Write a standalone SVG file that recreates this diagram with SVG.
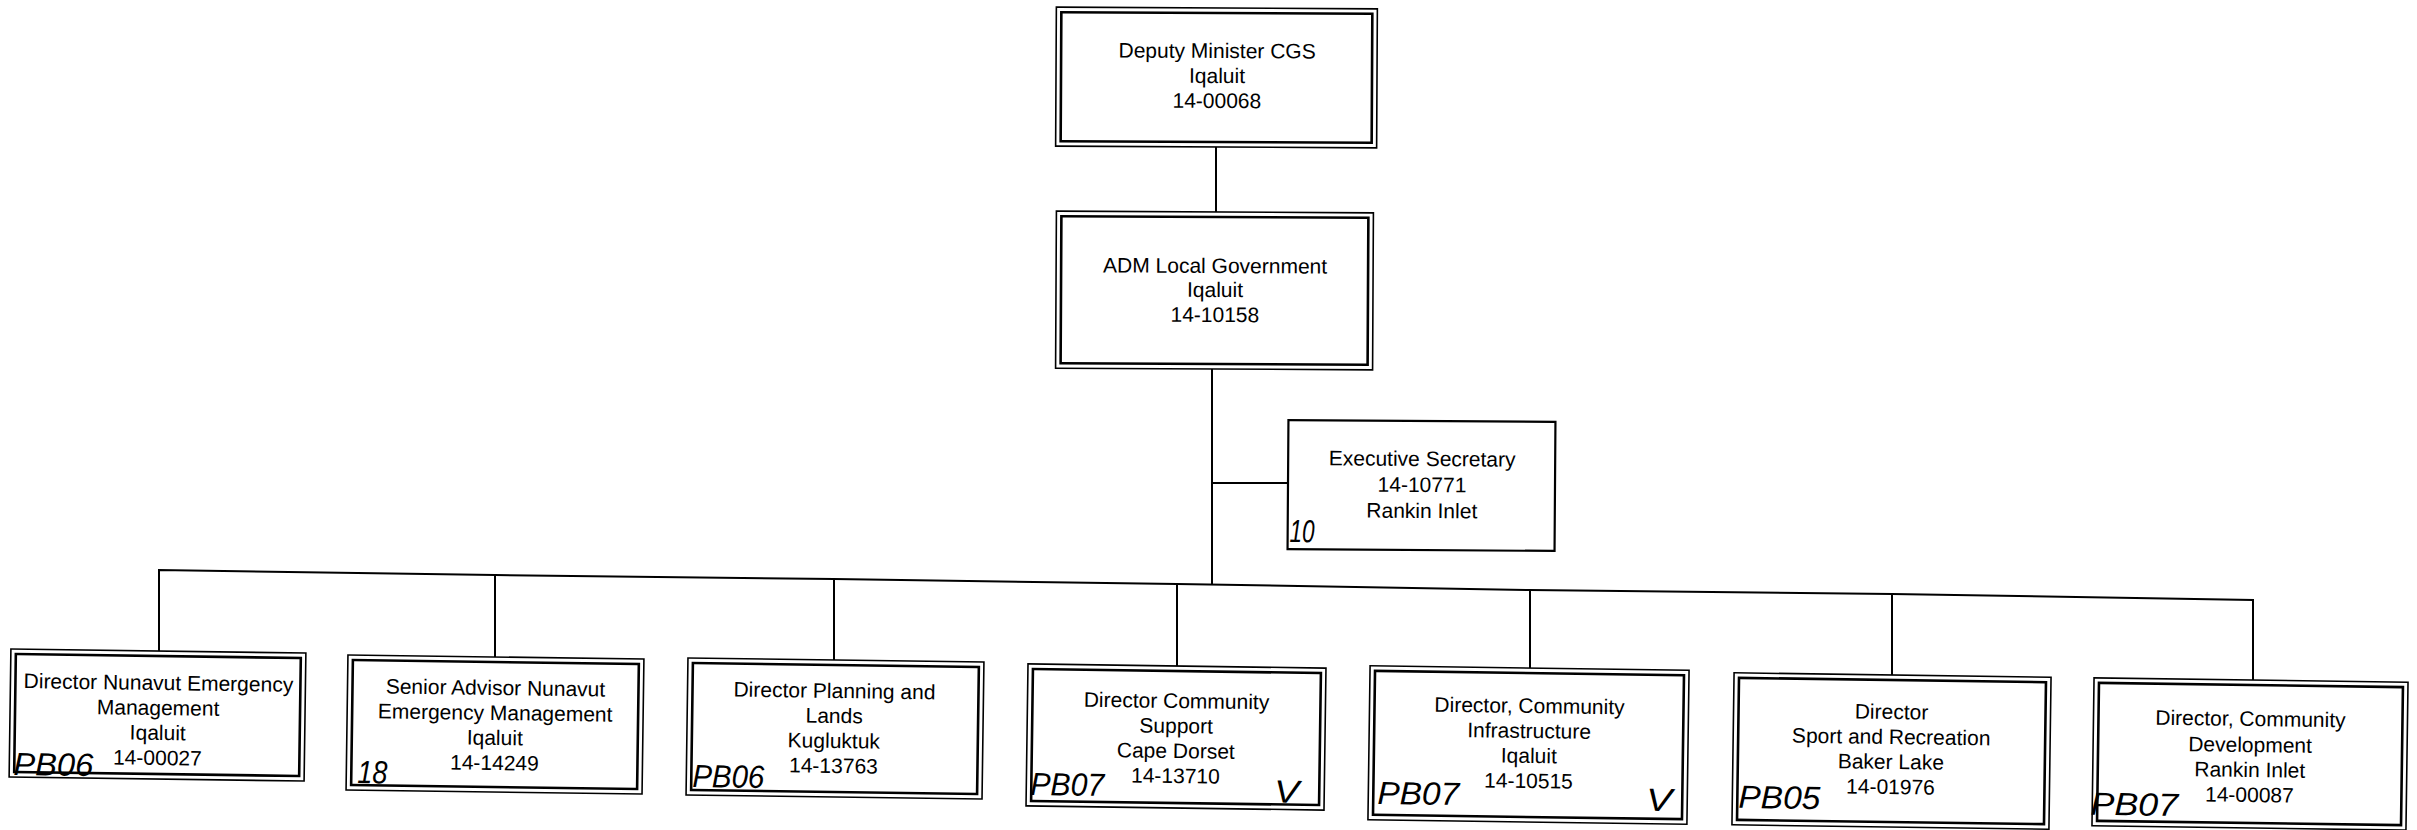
<svg xmlns="http://www.w3.org/2000/svg" width="2417" height="830" viewBox="0 0 2417 830">
<style>
  .o{fill:#fff;stroke:#000;stroke-width:1.6}
  .i{fill:none;stroke:#000;stroke-width:2.6}
  .s{fill:#fff;stroke:#000;stroke-width:2.2}
  .c{fill:none;stroke:#000;stroke-width:2}
  text.t{font-family:"Liberation Sans",Arial,sans-serif;font-size:21px;fill:#000;text-anchor:middle}
  text.h{font-family:"Liberation Sans Narrow","Liberation Sans",sans-serif;font-style:italic;font-size:32px;fill:#000}
</style>
<rect width="2417" height="830" fill="#fff"/>
<g id="connectors">
  <line class="c" x1="1216" y1="147" x2="1216" y2="212"/>
  <line class="c" x1="1212" y1="369" x2="1212" y2="584"/>
  <line class="c" x1="1212" y1="483" x2="1288" y2="483"/>
  <polyline class="c" points="159,651 159,570 495,575 834,579 1177,584 1530,590 1892,594 2253,600 2253,680"/>
  <line class="c" x1="495" y1="575" x2="495" y2="657"/>
  <line class="c" x1="834" y1="579" x2="834" y2="660"/>
  <line class="c" x1="1177" y1="584" x2="1177" y2="666"/>
  <line class="c" x1="1530" y1="590" x2="1530" y2="668"/>
  <line class="c" x1="1892" y1="594" x2="1892" y2="675"/>
</g>
<g id="deputy-minister" transform="rotate(0.3 1216 77)">
  <rect class="o" x="1056" y="8" width="321" height="139"/>
  <rect class="i" x="1061" y="13" width="311" height="129"/>
  <text class="t" x="1217" y="58">Deputy Minister CGS</text>
  <text class="t" x="1217" y="83">Iqaluit</text>
  <text class="t" x="1217" y="108">14-00068</text>
</g>
<g id="adm-local-government" transform="rotate(0.3 1214 290)">
  <rect class="o" x="1056" y="212" width="317" height="157"/>
  <rect class="i" x="1061" y="217" width="307" height="147"/>
  <text class="t" x="1215" y="273">ADM Local Government</text>
  <text class="t" x="1215" y="297">Iqaluit</text>
  <text class="t" x="1215" y="322">14-10158</text>
</g>
<g id="executive-secretary" transform="rotate(0.4 1422 485)">
  <rect class="s" x="1288" y="421" width="267" height="129"/>
  <text class="t" x="1422" y="466">Executive Secretary</text>
  <text class="t" x="1422" y="492">14-10771</text>
  <text class="t" x="1422" y="518">Rankin Inlet</text>
  <text class="h" x="1290" y="543" textLength="25" lengthAdjust="spacingAndGlyphs">10</text>
</g>
<g id="director-emergency-management" transform="rotate(0.8 158 715)">
  <rect class="o" x="10" y="651" width="295" height="128"/>
  <rect class="i" x="15" y="656" width="285" height="118"/>
  <text class="t" x="158" y="690">Director Nunavut Emergency</text>
  <text class="t" x="158" y="715">Management</text>
  <text class="t" x="158" y="740">Iqaluit</text>
  <text class="t" x="158" y="765">14-00027</text>
  <text class="h" x="14" y="777" textLength="80" lengthAdjust="spacingAndGlyphs">PB06</text>
</g>
<g id="senior-advisor-emergency-management" transform="rotate(0.8 495 724)">
  <rect class="o" x="347" y="657" width="296" height="135"/>
  <rect class="i" x="352" y="662" width="286" height="125"/>
  <text class="t" x="495" y="695">Senior Advisor Nunavut</text>
  <text class="t" x="495" y="720">Emergency Management</text>
  <text class="t" x="495" y="745">Iqaluit</text>
  <text class="t" x="495" y="770">14-14249</text>
  <text class="h" x="358" y="785" textLength="30" lengthAdjust="spacingAndGlyphs">18</text>
</g>
<g id="director-planning-lands" transform="rotate(0.8 835 728)">
  <rect class="o" x="687" y="660" width="296" height="137"/>
  <rect class="i" x="692" y="665" width="286" height="127"/>
  <text class="t" x="834" y="698">Director Planning and</text>
  <text class="t" x="834" y="723">Lands</text>
  <text class="t" x="834" y="748">Kugluktuk</text>
  <text class="t" x="834" y="773">14-13763</text>
  <text class="h" x="693" y="789" textLength="72" lengthAdjust="spacingAndGlyphs">PB06</text>
</g>
<g id="director-community-support" transform="rotate(0.8 1176 737)">
  <rect class="o" x="1027" y="666" width="298" height="142"/>
  <rect class="i" x="1032" y="671" width="288" height="132"/>
  <text class="t" x="1176" y="708">Director Community</text>
  <text class="t" x="1176" y="733">Support</text>
  <text class="t" x="1176" y="758">Cape Dorset</text>
  <text class="t" x="1176" y="783">14-13710</text>
  <text class="h" x="1031" y="797" textLength="74" lengthAdjust="spacingAndGlyphs">PB07</text>
  <text class="h" x="1275" y="801" textLength="25" lengthAdjust="spacingAndGlyphs">V</text>
</g>
<g id="director-community-infrastructure" transform="rotate(0.8 1528 745)">
  <rect class="o" x="1369" y="668" width="319" height="154"/>
  <rect class="i" x="1374" y="673" width="309" height="144"/>
  <text class="t" x="1529" y="713">Director, Community</text>
  <text class="t" x="1529" y="738">Infrastructure</text>
  <text class="t" x="1529" y="763">Iqaluit</text>
  <text class="t" x="1529" y="788">14-10515</text>
  <text class="h" x="1378" y="806" textLength="82" lengthAdjust="spacingAndGlyphs">PB07</text>
  <text class="h" x="1647" y="809" textLength="26" lengthAdjust="spacingAndGlyphs">V</text>
</g>
<g id="director-sport-recreation" transform="rotate(0.8 1891 751)">
  <rect class="o" x="1733" y="675" width="317" height="152"/>
  <rect class="i" x="1738" y="680" width="307" height="142"/>
  <text class="t" x="1891" y="719">Director</text>
  <text class="t" x="1891" y="744">Sport and Recreation</text>
  <text class="t" x="1891" y="769">Baker Lake</text>
  <text class="t" x="1891" y="794">14-01976</text>
  <text class="h" x="1739" y="810" textLength="82" lengthAdjust="spacingAndGlyphs">PB05</text>
</g>
<g id="director-community-development" transform="rotate(0.8 2250 754)">
  <rect class="o" x="2093" y="680" width="314" height="148"/>
  <rect class="i" x="2098" y="685" width="304" height="138"/>
  <text class="t" x="2250" y="726">Director, Community</text>
  <text class="t" x="2250" y="752">Development</text>
  <text class="t" x="2250" y="777">Rankin Inlet</text>
  <text class="t" x="2250" y="802">14-00087</text>
  <text class="h" x="2091" y="817" textLength="88" lengthAdjust="spacingAndGlyphs">PB07</text>
</g>
</svg>
